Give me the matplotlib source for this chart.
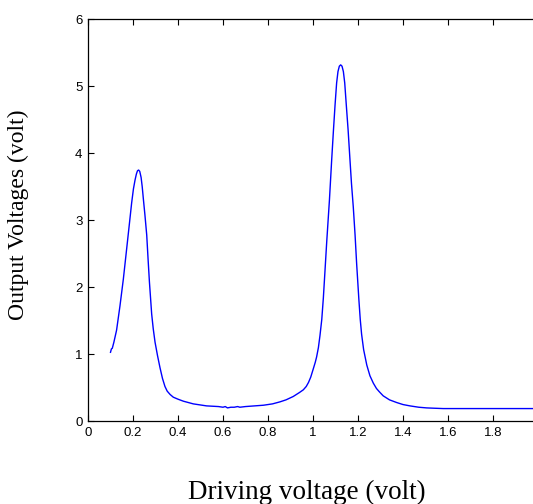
import matplotlib
matplotlib.use("Agg")
import matplotlib.pyplot as plt

drive_v = [0.100, 0.104, 0.108, 0.115, 0.127, 0.142, 0.157, 0.172, 0.185, 0.194,
           0.202, 0.209, 0.215, 0.220, 0.225, 0.230, 0.236, 0.241, 0.246, 0.253,
           0.261, 0.267, 0.273, 0.283, 0.290, 0.298, 0.309, 0.320, 0.331, 0.342,
           0.352, 0.365, 0.379, 0.400, 0.424, 0.468, 0.527, 0.580, 0.600, 0.610,
           0.620, 0.635, 0.650, 0.665, 0.675, 0.700, 0.740, 0.780, 0.820, 0.853,
           0.880, 0.912, 0.940, 0.957, 0.970, 0.980, 0.990, 1.001, 1.010, 1.016,
           1.024, 1.031, 1.039, 1.046, 1.053, 1.061, 1.073, 1.083, 1.091, 1.098,
           1.105, 1.111, 1.117, 1.123, 1.129, 1.135, 1.141, 1.148, 1.156, 1.164,
           1.171, 1.179, 1.187, 1.194, 1.204, 1.210, 1.216, 1.225, 1.239, 1.253,
           1.268, 1.282, 1.295, 1.312, 1.340, 1.372, 1.400, 1.431, 1.470, 1.505,
           1.540, 1.579, 1.700, 1.850, 2.000]
out_v = [1.03, 1.08, 1.09, 1.18, 1.36, 1.72, 2.12, 2.58, 2.98, 3.26,
         3.47, 3.60, 3.69, 3.74, 3.75, 3.73, 3.64, 3.50, 3.32, 3.08,
         2.78, 2.42, 2.08, 1.60, 1.38, 1.18, 0.98, 0.80, 0.64, 0.52,
         0.45, 0.40, 0.36, 0.33, 0.30, 0.26, 0.23, 0.22, 0.21, 0.22,
         0.20, 0.21, 0.21, 0.22, 0.21, 0.22, 0.23, 0.24, 0.26, 0.29,
         0.32, 0.37, 0.43, 0.47, 0.52, 0.58, 0.66, 0.78, 0.88, 0.96,
         1.10, 1.28, 1.52, 1.84, 2.23, 2.68, 3.30, 3.90, 4.35, 4.72,
         5.05, 5.22, 5.30, 5.32, 5.30, 5.22, 5.05, 4.72, 4.35, 3.92,
         3.55, 3.20, 2.78, 2.35, 1.81, 1.52, 1.30, 1.07, 0.84, 0.68,
         0.57, 0.49, 0.44, 0.38, 0.32, 0.28, 0.25, 0.23, 0.21, 0.20,
         0.195, 0.19, 0.19, 0.19, 0.19]

x_ticks = [0, 0.2, 0.4, 0.6, 0.8, 1, 1.2, 1.4, 1.6, 1.8]
x_ticklabels = ["0", "0.2", "0.4", "0.6", "0.8", "1", "1.2", "1.4", "1.6", "1.8"]
y_ticks = [0, 1, 2, 3, 4, 5, 6]

fig = plt.figure(figsize=(5.33, 5.04), dpi=100)
ax = fig.add_axes([88/533, 1-421.3/504, 450/533, 402/504])
ax.plot(drive_v, out_v, color="#0000ff", lw=1.0)
ax.set_xlim(0, 2)
ax.set_ylim(0, 6)
ax.set_xticks(x_ticks)
ax.set_xticklabels(x_ticklabels)
ax.set_yticks(y_ticks)
for s in ax.spines.values():
    s.set_linewidth(0.9)
ax.tick_params(direction="in", length=4, width=0.8, top=True, right=False,
               labelsize=9.5, pad=4)
for lab in ax.get_xticklabels() + ax.get_yticklabels():
    lab.set_family("Liberation Sans")

fig.text(307/533, 1-492/504, "Driving voltage (volt)", ha="center", va="center",
         fontsize=19.5, family="Liberation Serif")
fig.text(18/533, 1-215/504, "Output Voltages (volt)", ha="center", va="center",
         rotation=90, fontsize=17, family="Liberation Serif")

fig.savefig("out.png", dpi=100)
